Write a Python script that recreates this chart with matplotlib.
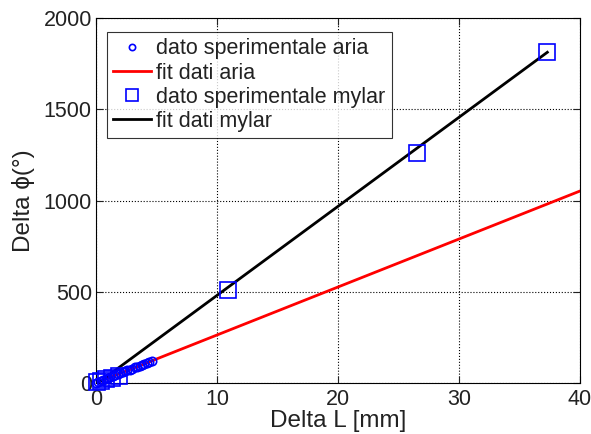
import numpy as np
from matplotlib import pyplot as plt

plt.rcParams['font.family'] = ['Liberation Sans', 'DejaVu Sans']

aria_L = [0.0, 0.2, 0.4, 0.6, 0.8, 1.0, 1.2, 1.4, 1.6, 1.8, 2.0, 2.2, 2.4,
          2.6, 2.8, 3.0, 3.2, 3.4, 3.6, 3.8, 4.0, 4.2, 4.4, 4.6]
aria_phi = [2, 7, 12, 17, 22, 27, 32, 37, 43, 48, 53, 58, 64,
            69, 74, 79, 85, 90, 95, 100, 106, 111, 116, 121]

# Dati mylar
mylar_L = [0.1, 0.4, 0.8, 1.3, 1.9, 10.9, 26.5, 37.3]
mylar_phi = [5, 12, 20, 28, 36, 512, 1258, 1815]

# Fit lineari
fit_aria = (26.3, 0.0)
fit_mylar = (48.8, -8.0)

fig = plt.figure(figsize=(5.91, 4.34), dpi=100)
ax = fig.add_axes([0.1624, 0.1175, 0.819, 0.841])

ax.plot(aria_L, aria_phi, 'o', mfc='none', mec='blue', ms=6, mew=1.2,
        label='dato sperimentale aria', zorder=3, clip_on=False)
xa = np.array([0, 40])
ax.plot(xa, fit_aria[0] * xa + fit_aria[1], color='red', lw=2,
        label='fit dati aria', zorder=2)
ax.plot(mylar_L, mylar_phi, 's', mfc='none', mec='blue', ms=11, mew=1.2,
        label='dato sperimentale mylar', zorder=3, clip_on=False)
xm = np.array([0, 37.3])
ax.plot(xm, fit_mylar[0] * xm + fit_mylar[1], color='black', lw=2,
        label='fit dati mylar', zorder=2)

ax.set_xlim(0, 40)
ax.set_ylim(0, 2000)
ax.set_xticks([0, 10, 20, 30, 40])
ax.set_yticks([0, 500, 1000, 1500, 2000])
ax.grid(True, color='black', linestyle=':', linewidth=0.8)
ax.tick_params(direction='in', top=True, right=True, labelsize=15.5,
               length=5, colors='#222222', pad=3)
ax.tick_params(axis='x', pad=4)
for s in ax.spines.values():
    s.set_linewidth(0.8)

ax.set_xlabel('Delta L [mm]', fontsize=17.5, labelpad=0, color='#222222')
ax.set_ylabel('Delta \u03d5(\u00b0)', fontsize=17.5, labelpad=6, color='#222222')

leg = ax.legend(loc='upper left', bbox_to_anchor=(0.022, 0.962), fontsize=15.5,
                frameon=True, fancybox=False, edgecolor='black',
                borderpad=0.3, labelspacing=0.15, handlelength=1.75,
                handletextpad=0.25, borderaxespad=0, markerscale=0.75)
leg.get_frame().set_linewidth(0.8)
for t in leg.get_texts():
    t.set_color('#222222')

fig.savefig('out.png', dpi=100)
